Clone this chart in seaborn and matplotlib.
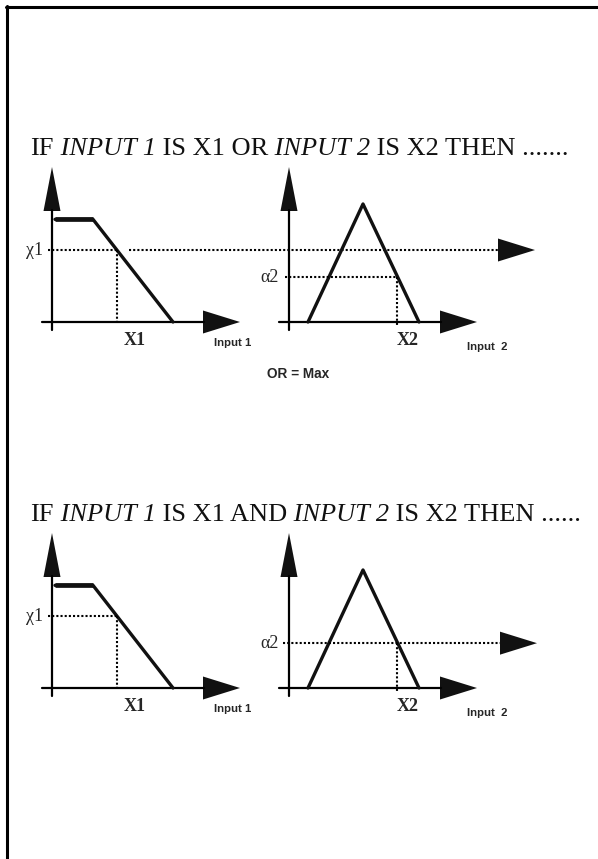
import matplotlib
matplotlib.use('Agg')
import matplotlib.pyplot as plt
import seaborn as sns

sns.set_style('white')
plt.rcParams['font.family'] = ['Liberation Serif', 'DejaVu Serif']

# membership functions (input units, degree of membership)
trap_x = [0.3, 4.1, 12.1]
trap_y = [0.87, 0.87, 0.0]
tri_x = [1.9, 7.4, 13.0]
tri_y = [0.0, 1.0, 0.0]

# crisp inputs and the degrees they give
x1_value = 6.5
x2_value = 10.8
alpha1 = 0.61
alpha2 = 0.38

# rule titles as (text, style) pieces
titles = [
    [('IF', 'normal'), (' INPUT 1', 'italic'), (' IS X1 OR', 'normal'),
     (' INPUT 2', 'italic'), (' IS X2 THEN .......', 'normal')],
    [('IF', 'normal'), (' INPUT 1', 'italic'), (' IS X1 AND', 'normal'),
     (' INPUT 2', 'italic'), (' IS X2 THEN ......', 'normal')],
]
input_labels = ['Input 1', 'Input  2']
value_labels = ['X1', 'X2']
degree_labels = ['\u03c71', '\u03b12']
rule_note = 'OR = Max'

W, H = 598, 859
XS, YS = 10.0, 118.0   # pixels per unit

fig = plt.figure(figsize=(W / 100, H / 100), dpi=100)
renderer = fig.canvas.get_renderer()

# page frame (top and left edges)
fig.add_artist(plt.Line2D([6 / W, 1], [1 - 7 / H, 1 - 7 / H], color='black', lw=2.2))
fig.add_artist(plt.Line2D([7 / W, 7 / W], [1 - 6 / H, 0], color='black', lw=2.2))


def panel(ox, oy):
    ax = fig.add_axes([(ox - 30) / W, (H - (oy + 40)) / H, 270 / W, 220 / H])
    ax.set_xlim(-30 / XS, 240 / XS)
    ax.set_ylim(-40 / YS, 180 / YS)
    ax.axis('off')
    # axes with arrow heads
    ax.plot([0, 0], [-8 / YS, 112 / YS], color='black', lw=1.6)
    ax.fill([-8.5 / XS, 8.5 / XS, 0], [111 / YS, 111 / YS, 155 / YS], color='#111111', lw=0)
    ax.plot([-10 / XS, 152 / XS], [0, 0], color='black', lw=1.6)
    ax.fill([151 / XS, 151 / XS, 188 / XS], [-11.5 / YS, 11.5 / YS, 0], color='#111111', lw=0)
    return ax


def hline_arrow(ax, x0, x1, y):
    ax.plot([x0, x1], [y, y], color='black', lw=1.5, ls=(0, (1, 1)), clip_on=False)
    ax.fill([x1, x1, x1 + 37 / XS], [y - 11.5 / YS, y + 11.5 / YS, y],
            color='#111111', lw=0, clip_on=False)


def title(pieces, y):
    x = 30
    for txt, style in pieces:
        t = fig.text(x / W, 1 - y / H, txt, ha='left', va='center', fontsize=19,
                     fontstyle=style, color='#111111')
        x += t.get_window_extent(renderer).width


dot = dict(color='black', lw=1.5, ls=(0, (1, 1)))

for row, oy in enumerate([322, 688]):
    ax1 = panel(52, oy)
    ax2 = panel(289, oy)

    sns.lineplot(x=trap_x, y=trap_y, ax=ax1, color='#111111', lw=2.4,
                 sort=False, estimator=None)
    ax1.plot(trap_x[:2], trap_y[:2], color='#111111', lw=3.4, solid_capstyle='butt')
    sns.lineplot(x=tri_x, y=tri_y, ax=ax2, color='#111111', lw=2.4,
                 sort=False, estimator=None)

    ax1.plot([-4 / XS, x1_value], [alpha1, alpha1], **dot)
    ax1.plot([x1_value, x1_value], [alpha1, -3 / YS], **dot)
    ax2.plot([x2_value, x2_value], [alpha2, -3 / YS], **dot)
    if row == 0:
        ax2.plot([-4 / XS, x2_value], [alpha2, alpha2], **dot)
        hline_arrow(ax1, x1_value + 1.2, 44.6, alpha1)
    else:
        hline_arrow(ax2, -6 / XS, 21.1, alpha2)

    ax1.text(-0.9, alpha1, degree_labels[0], ha='right', va='center', fontsize=13)
    ax2.text(-1.0, alpha2, degree_labels[1], ha='right', va='center', fontsize=13)
    ax1.text(8.3, -0.16, value_labels[0], ha='center', va='center', fontsize=13,
             fontweight='bold')
    ax2.text(11.9, -0.16, value_labels[1], ha='center', va='center', fontsize=13,
             fontweight='bold')
    ax1.text(18.1, -0.18, input_labels[0], ha='center', va='center', fontsize=8.2,
             fontweight='bold', family='Liberation Sans')
    ax2.text(19.8, -0.21, input_labels[1], ha='center', va='center', fontsize=8.2,
             fontweight='bold', family='Liberation Sans')

    title(titles[row], oy - 173)

fig.text(298 / W, 1 - 374 / H, rule_note, ha='center', va='center', fontsize=9.8,
         fontweight='bold', family='Liberation Sans')

fig.savefig('out.png', dpi=100)
